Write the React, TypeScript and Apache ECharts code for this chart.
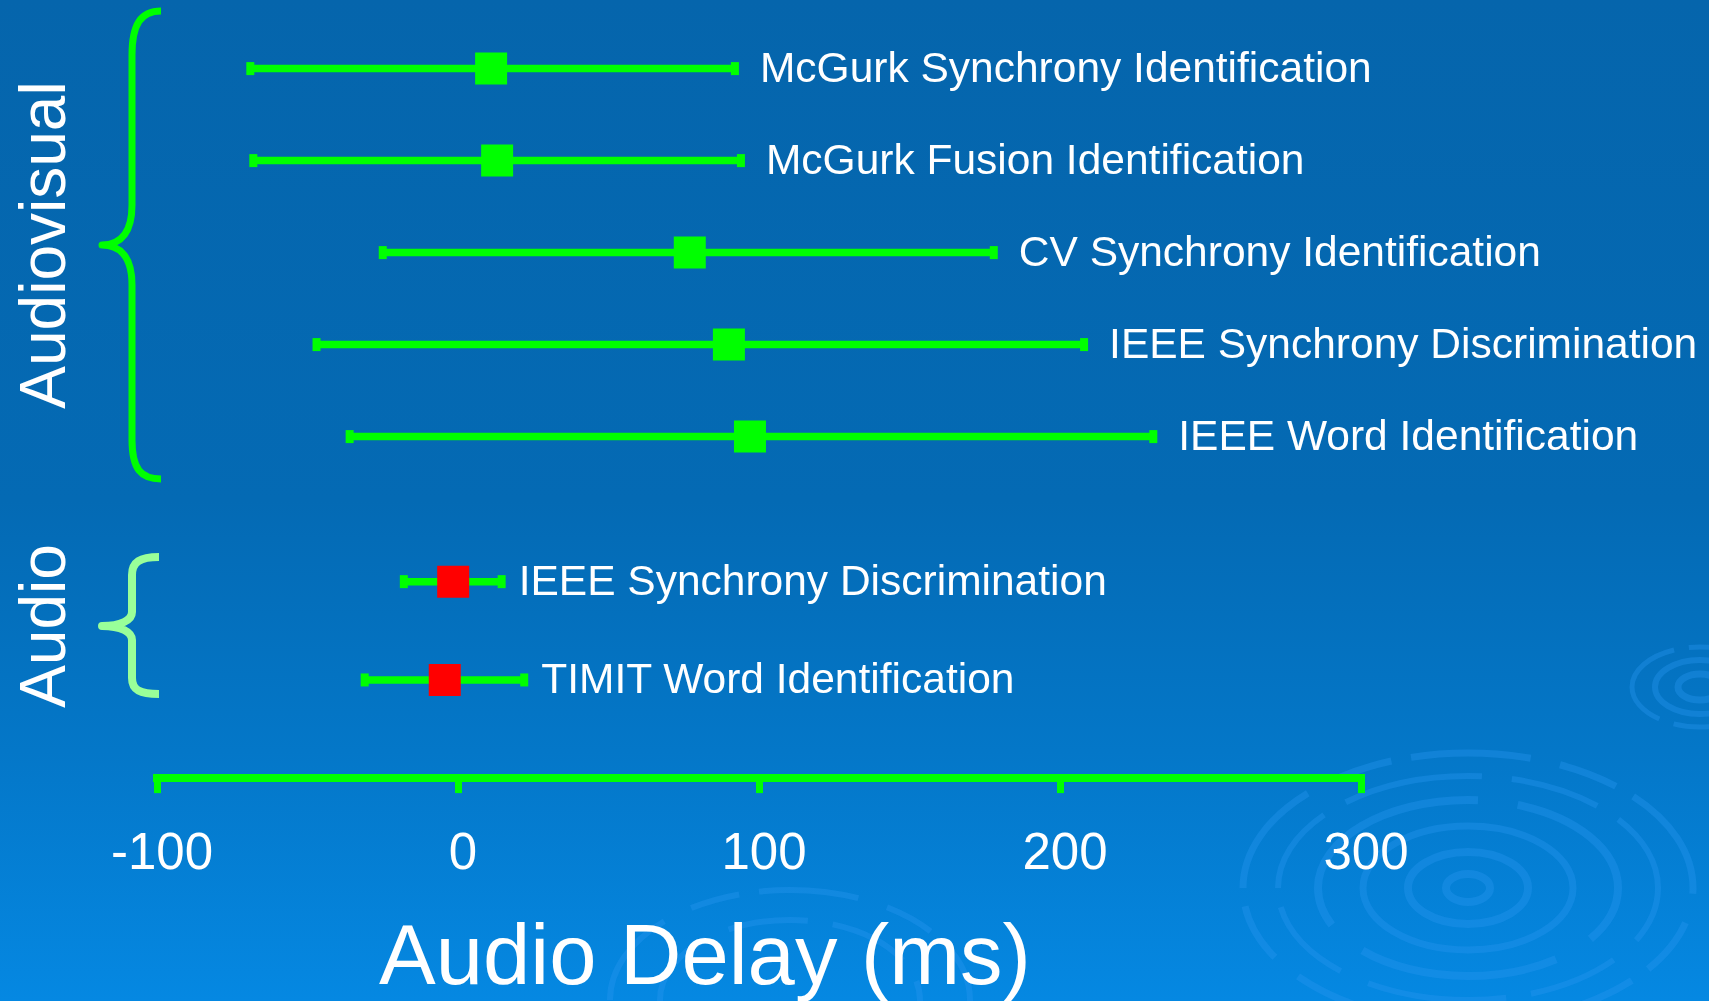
import React, { useEffect, useRef } from "react";
import * as echarts from "echarts";

// ---- Data ----
const avTasks = [
  "McGurk Synchrony Identification",
  "McGurk Fusion Identification",
  "CV Synchrony Identification",
  "IEEE Synchrony Discrimination",
  "IEEE Word Identification",
];
const avMean = [11, 13, 77, 90, 97];
const avLow = [-69, -68, -25, -47, -36];
const avHigh = [92, 94, 178, 208, 231];

const audioTasks = ["IEEE Synchrony Discrimination", "TIMIT Word Identification"];
const audioMean = [-1.6, -4.4];
const audioLow = [-18, -31];
const audioHigh = [14.5, 22];

const xTicksMin = -100;
const xTicksMax = 300;
const xTickStep = 100;

const groupNames = ["Audiovisual", "Audio"];
const axisTitle = "Audio Delay (ms)";

const FONT = "'Liberation Sans', Arial, Helvetica, sans-serif";
const GREEN = "#00FF00";
const LIGHT_GREEN = "#99FF99";
const RED = "#FF0000";

echarts.graphic.registerShape(
  "braceAV",
  echarts.graphic.extendPath(
    "M161,11 C141,11 132,24 132,55 L132,205 C132,231 122,245 102,245 C122,245 132,259 132,285 L132,440 C132,469 141,479 161,479",
    {}
  )
);
echarts.graphic.registerShape(
  "braceA",
  echarts.graphic.extendPath(
    "M159,557 C140,557 132,562 132,575 L132,612 C132,620 121,626 102,626 C121,626 132,632 132,640 L132,678 C132,690 140,694 159,694",
    {}
  )
);

function errorBarSeries(gridIdx: number, tasks: string[], low: number[], high: number[], gap: number) {
  return {
    type: "custom",
    xAxisIndex: gridIdx,
    yAxisIndex: gridIdx,
    encode: { x: [0, 1], y: 2 },
    z: 3,
    data: tasks.map((t, i) => [low[i], high[i], i]),
    renderItem: (params: any, api: any) => {
      const lo = api.coord([api.value(0), api.value(2)]);
      const hi = api.coord([api.value(1), api.value(2)]);
      return {
        type: "group",
        children: [
          {
            type: "line",
            shape: { x1: lo[0], y1: lo[1], x2: hi[0], y2: hi[1] },
            style: { stroke: GREEN, lineWidth: 7.5 },
          },
          {
            type: "rect",
            shape: { x: lo[0] - 4, y: lo[1] - 6.5, width: 8, height: 13 },
            style: { fill: GREEN },
          },
          {
            type: "rect",
            shape: { x: hi[0] - 4, y: hi[1] - 6.5, width: 8, height: 13 },
            style: { fill: GREEN },
          },
          {
            type: "text",
            x: hi[0] + gap,
            y: hi[1] - 1,
            style: {
              text: tasks[params.dataIndex],
              fill: "#FFFFFF",
              fontSize: 42.5,
              fontFamily: FONT,
              align: "left",
              verticalAlign: "middle",
            },
          },
        ],
      };
    },
  };
}

export default function App() {
  const ref = useRef<HTMLDivElement>(null);

  useEffect(() => {
    if (!ref.current) return;
    const chart = echarts.init(ref.current, null, { renderer: "svg" });

    const ripple = (cx: number, cy: number, rx: number, ry: number, w: number, dash?: number[]) => ({
      type: "ellipse",
      z: -5,
      silent: true,
      shape: { cx, cy, rx, ry },
      style: {
        fill: "none",
        stroke: "rgba(40,150,240,0.38)",
        lineWidth: w,
        lineDash: dash,
      },
    });

    const option: any = {
      animation: false,
      grid: [
        { left: 157, right: 348, top: 22.6, height: 460 },
        { left: 157, right: 348, top: 532.5, height: 196.6 },
      ],
      xAxis: [
        { gridIndex: 0, type: "value", min: xTicksMin, max: xTicksMax, interval: xTickStep, show: false },
        {
          gridIndex: 1,
          type: "value",
          min: xTicksMin,
          max: xTicksMax,
          interval: xTickStep,
          offset: 49,
          axisLine: { show: true, lineStyle: { color: GREEN, width: 8, cap: "square" } },
          axisTick: { show: true, length: 15, lineStyle: { color: GREEN, width: 7 } },
          axisLabel: {
            color: "#FFFFFF",
            fontSize: 51,
            fontFamily: FONT,
            margin: 48,
            padding: [0, 0, 0, 10],
          },
          splitLine: { show: false },
          name: axisTitle,
          nameLocation: "middle",
          nameGap: 134,
          nameTextStyle: {
            color: "#FFFFFF",
            fontSize: 85,
            fontFamily: FONT,
            padding: [0, 108, 0, 0],
          },
        },
      ],
      yAxis: [
        { gridIndex: 0, type: "category", data: avTasks, inverse: true, show: false },
        { gridIndex: 1, type: "category", data: audioTasks, inverse: true, show: false },
      ],
      graphic: [
        {
          type: "rect",
          z: -10,
          silent: true,
          shape: { x: 0, y: 0, width: 1709, height: 1001 },
          style: {
            fill: new echarts.graphic.LinearGradient(0, 0, 0, 1, [
              { offset: 0, color: "#0565AC" },
              { offset: 0.5, color: "#046AB4" },
              { offset: 0.75, color: "#0477C8" },
              { offset: 1, color: "#0588E2" },
            ]),
          },
        },
        ripple(1468, 888, 225, 135, 7, [120, 30, 60, 20]),
        ripple(1468, 888, 190, 112, 6, [90, 25, 140, 30]),
        ripple(1468, 888, 150, 88, 8, [200, 40]),
        ripple(1468, 888, 105, 62, 7),
        ripple(1468, 888, 60, 36, 8),
        ripple(1468, 888, 22, 14, 8),
        ripple(1700, 687, 68, 40, 5, [60, 15]),
        ripple(1700, 687, 45, 27, 6),
        ripple(1700, 687, 22, 13, 7),
        ripple(790, 1000, 180, 110, 6, [100, 30, 50, 20]),
        ripple(790, 1000, 130, 80, 6, [80, 25]),
        {
          type: "braceAV",
          z: 5,
          silent: true,
          style: { fill: "none", stroke: GREEN, lineWidth: 7, lineJoin: "round", lineCap: "butt" },
        },
        {
          type: "braceA",
          z: 5,
          silent: true,
          style: { fill: "none", stroke: LIGHT_GREEN, lineWidth: 8, lineJoin: "round", lineCap: "butt" },
        },
        {
          type: "text",
          z: 5,
          x: 43,
          y: 245,
          rotation: Math.PI / 2,
          style: {
            text: groupNames[0],
            fill: "#FFFFFF",
            fontSize: 64,
            fontFamily: FONT,
            align: "center",
            verticalAlign: "middle",
          },
        },
        {
          type: "text",
          z: 5,
          x: 43,
          y: 626,
          rotation: Math.PI / 2,
          style: {
            text: groupNames[1],
            fill: "#FFFFFF",
            fontSize: 64,
            fontFamily: FONT,
            align: "center",
            verticalAlign: "middle",
          },
        },
      ],
      series: [
        errorBarSeries(0, avTasks, avLow, avHigh, 25),
        errorBarSeries(1, audioTasks, audioLow, audioHigh, 17),
        {
          type: "scatter",
          xAxisIndex: 0,
          yAxisIndex: 0,
          z: 4,
          symbol: "rect",
          symbolSize: 32,
          itemStyle: { color: GREEN, opacity: 1 },
          data: avMean.map((m, i) => [m, i]),
        },
        {
          type: "scatter",
          xAxisIndex: 1,
          yAxisIndex: 1,
          z: 4,
          symbol: "rect",
          symbolSize: 32,
          itemStyle: { color: RED, opacity: 1 },
          data: audioMean.map((m, i) => [m, i]),
        },
      ],
    };

    chart.setOption(option);
    return () => chart.dispose();
  }, []);

  return (
    <div
      ref={ref}
      style={{ position: "fixed", left: 0, top: 0, width: "1709px", height: "1001px" }}
    />
  );
}
